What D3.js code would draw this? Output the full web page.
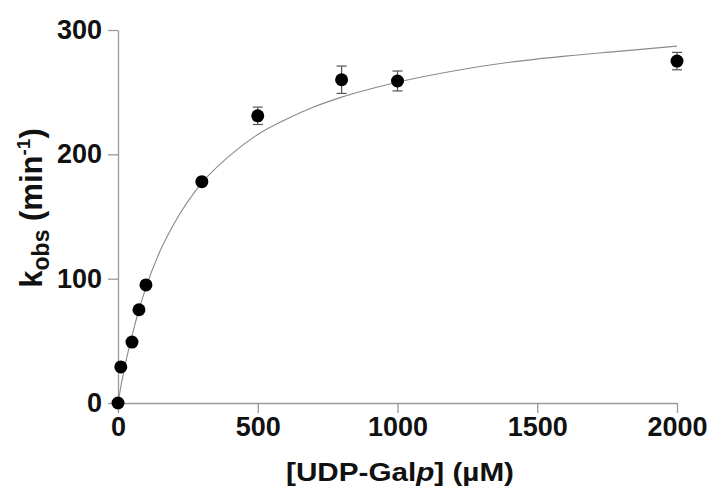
<!DOCTYPE html>
<html>
<head>
<meta charset="utf-8">
<script src="https://cdn.jsdelivr.net/npm/d3@7"></script>
<style>
  body { margin: 0; background: #fff; }
  svg { display: block; }
  text { font-family: 'Liberation Sans', Arial, sans-serif; }
</style>
</head>
<body>
<div id="chart"></div>
<script>
// measured points
const conc = [0, 10, 50, 75, 100, 300, 500, 800, 1000, 2000];
const kobs = [0, 29, 49, 75, 95, 178, 231, 260, 259, 275];
const kobsErr = [0, 0, 0, 0, 0, 0, 7, 11, 8, 7];

// fitted curve
const fitConc = [0, 10, 25, 50, 75, 100, 150, 200, 300, 400, 500, 600, 700, 800, 1000, 1200, 1400, 1600, 1800, 2000];
const fitKobs = [0, 13, 30, 54, 75, 93, 122, 144, 177, 199, 216, 228, 238, 246, 258, 267, 274, 279, 283, 287];

const xTicks = [0, 500, 1000, 1500, 2000];
const yTicks = [0, 100, 200, 300];

const width = 708, height = 486;
const margin = [30, 31, 83, 118]; // top, right, bottom, left

const svg = d3.select('#chart').append('svg')
  .attr('width', width)
  .attr('height', height);

const scaleX = d3.scaleLinear().domain([0, 2000]).range([margin[3], width - margin[1]]);
const scaleY = d3.scaleLinear().domain([0, 300]).range([height - margin[2], margin[0]]);

// axes
const axisX = svg.append('g')
  .attr('transform', `translate(0,${scaleY(0)})`)
  .call(d3.axisBottom(scaleX).tickValues(xTicks).tickFormat(d3.format('d'))
    .tickSize(10).tickSizeOuter(0).tickPadding(4));

const axisY = svg.append('g')
  .attr('transform', `translate(${scaleX(0)},0)`)
  .call(d3.axisLeft(scaleY).tickValues(yTicks).tickFormat(d3.format('d'))
    .tickSize(10).tickSizeOuter(0).tickPadding(6));

svg.selectAll('.domain, .tick line')
  .attr('stroke', '#9a9a9a')
  .attr('stroke-width', 1.3);

svg.selectAll('.tick text')
  .attr('fill', '#111')
  .style('font-size', '27px')
  .style('font-weight', 'bold')
  .style('font-family', "'Liberation Sans Narrow', 'Arial Narrow', 'Liberation Sans', sans-serif");

// fitted curve
const line = d3.line()
  .x((d, i) => scaleX(fitConc[i]))
  .y(d => scaleY(d))
  .curve(d3.curveMonotoneX);

svg.append('path')
  .datum(fitKobs)
  .attr('d', line)
  .attr('fill', 'none')
  .attr('stroke', '#8a8a8a')
  .attr('stroke-width', 1.1);

// error bars
const bars = svg.append('g').selectAll('g')
  .data(conc.map((c, i) => ({ c, k: kobs[i], e: kobsErr[i] })).filter(d => d.e > 0))
  .join('g')
  .attr('stroke', '#555')
  .attr('stroke-width', 1.2);

bars.append('line')
  .attr('x1', d => scaleX(d.c)).attr('x2', d => scaleX(d.c))
  .attr('y1', d => scaleY(d.k + d.e)).attr('y2', d => scaleY(d.k - d.e));
bars.append('line')
  .attr('x1', d => scaleX(d.c) - 5).attr('x2', d => scaleX(d.c) + 5)
  .attr('y1', d => scaleY(d.k + d.e)).attr('y2', d => scaleY(d.k + d.e));
bars.append('line')
  .attr('x1', d => scaleX(d.c) - 5).attr('x2', d => scaleX(d.c) + 5)
  .attr('y1', d => scaleY(d.k - d.e)).attr('y2', d => scaleY(d.k - d.e));

// points
svg.append('g').selectAll('circle')
  .data(conc)
  .join('circle')
  .attr('cx', d => scaleX(d))
  .attr('cy', (d, i) => scaleY(kobs[i]))
  .attr('r', 6.5)
  .attr('fill', '#000');

// axis labels
const labelX = svg.append('text')
  .attr('x', 400)
  .attr('y', 481)
  .attr('text-anchor', 'middle')
  .attr('textLength', 228)
  .attr('lengthAdjust', 'spacingAndGlyphs')
  .style('font-size', '26px')
  .style('font-weight', 'bold')
  .attr('fill', '#111');
labelX.append('tspan').text('[UDP-Gal');
labelX.append('tspan').style('font-style', 'italic').text('p');
labelX.append('tspan').text('] (µM)');

const labelY = svg.append('text')
  .attr('transform', `translate(42,208)rotate(-90)`)
  .attr('text-anchor', 'middle')
  .style('font-size', '31px')
  .style('font-weight', 'bold')
  .attr('fill', '#111');
labelY.append('tspan').text('k');
labelY.append('tspan').attr('dy', 7).style('font-size', '23px').text('obs');
labelY.append('tspan').attr('dy', -7).text(' (min');
labelY.append('tspan').attr('dy', -12).style('font-size', '19px').text('-1');
labelY.append('tspan').attr('dy', 12).text(')');
</script>
</body>
</html>
